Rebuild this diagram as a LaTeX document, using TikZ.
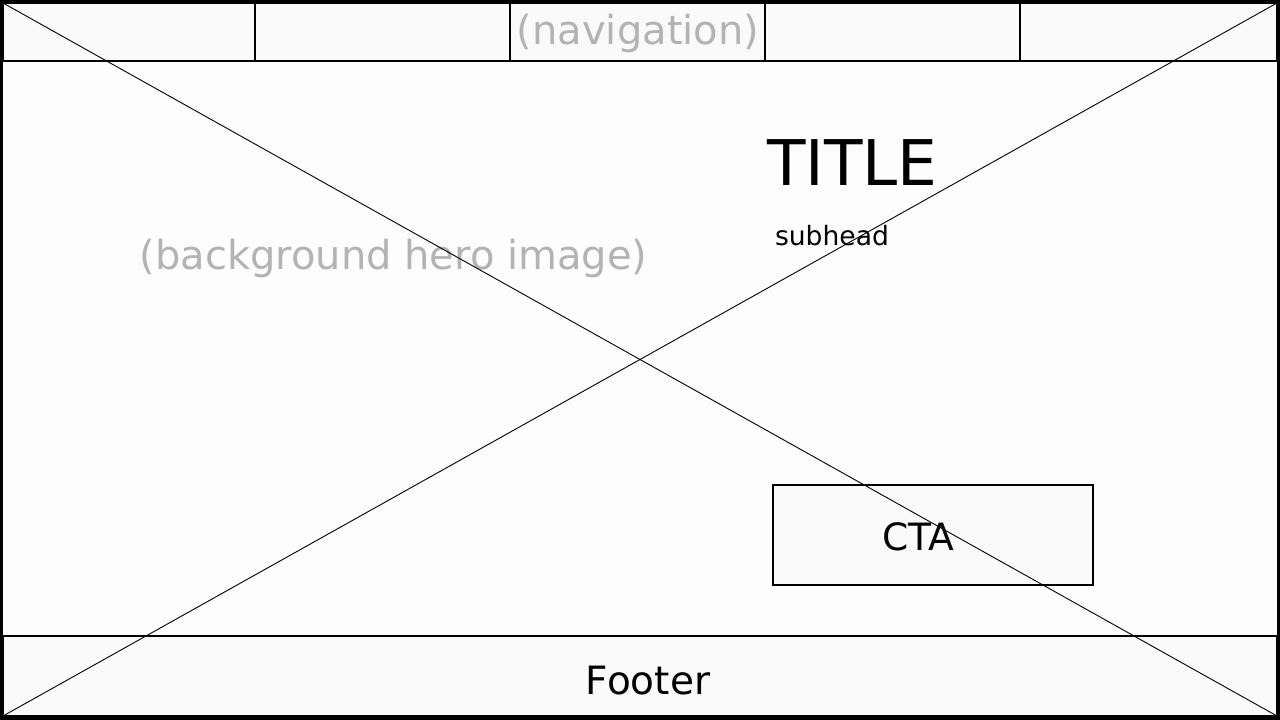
\documentclass[tikz,border=0pt]{standalone}
\usepackage{fontspec}
\setmainfont{DejaVu Sans}
\definecolor{panel}{HTML}{FAFAFA}
\definecolor{herobg}{HTML}{FDFDFD}
\definecolor{ghost}{HTML}{B3B3B3}
\begin{document}
\begin{tikzpicture}[x=1pt,y=-1pt,
  box/.style={draw=black,line width=1.2pt,fill=panel},
  lbl/.style={inner sep=0pt,anchor=base},
  diag/.style={draw=black,line width=0.9pt}]
\useasboundingbox (0,0) rectangle (1280,720);
% hero background
\fill[herobg] (0,0) rectangle (1280,720);
% navigation bar
\path[box] (3,3) rectangle (1277,61);
\foreach \x in {255,510,765,1020} \draw[line width=1.2pt] (\x,3) -- (\x,61);
% footer
\path[box] (3,636) rectangle (1277,716);
% CTA
\node[box,minimum width=320pt,minimum height=100pt,inner sep=0pt] (ctabox) at (933,535) {};
% texts
\node[lbl,text=ghost,font=\fontsize{40}{48}\selectfont] (nav) at (638,44) {(navigation)};
\node[lbl,text=ghost,font=\fontsize{40}{48}\selectfont] (hero) at (393.5,269) {(background hero image)};
\node[lbl,font=\fontsize{63}{72}\selectfont] (title) at (852.5,185) {TITLE};
\node[lbl,font=\fontsize{26.6}{32}\selectfont] (subhead) at (832,245) {subhead};
\node[lbl,font=\fontsize{37.6}{44}\selectfont] (cta) at (918.5,550) {CTA};
\node[lbl,font=\fontsize{39}{46}\selectfont] (footer) at (648,694) {Footer};
% diagonals
\coordinate (tl) at (3,3);
\coordinate (tr) at (1277,3);
\coordinate (bl) at (3,716);
\coordinate (br) at (1277,716);
\draw[diag] (tl) -- (br);
\draw[diag] (tr) -- (bl);
% outer frame
\draw[line width=3.5pt] (1.5,1.5) rectangle (1278.5,718);
\end{tikzpicture}
\end{document}
